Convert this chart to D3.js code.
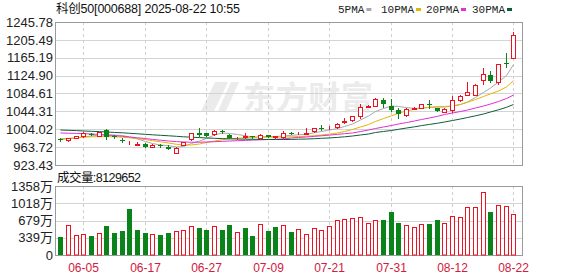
<!DOCTYPE html>
<html>
<head>
<meta charset="utf-8">
<script src="https://cdn.jsdelivr.net/npm/d3@7"></script>
<style>
  body { margin: 0; background: #fff; }
  svg { display: block; }
  text { font-family: "Liberation Sans", Arial, "Noto Sans CJK SC", sans-serif; }
</style>
</head>
<body>
<svg id="chart" width="578" height="276"></svg>
<script>
(function() {

    // trading days shown
    var dates = ['05-30','06-03','06-04','06-05','06-06','06-09','06-10','06-11','06-12','06-13',
        '06-16','06-17','06-18','06-19','06-20','06-23','06-24','06-25','06-26','06-27',
        '06-30','07-01','07-02','07-03','07-04','07-07','07-08','07-09','07-10','07-11',
        '07-14','07-15','07-16','07-17','07-18','07-21','07-22','07-23','07-24','07-25',
        '07-28','07-29','07-30','07-31','08-01','08-04','08-05','08-06','08-07','08-08',
        '08-11','08-12','08-13','08-14','08-15','08-18','08-19','08-20','08-21','08-22'];

    var opens = [982.0,979.8,985.4,988.8,994.4,989.9,1003.4,989.9,979.8,971.9,
        969.6,970.8,964.7,968.5,964.7,951.2,969.2,981.4,994.9,994.9,
        992.6,1000.7,991.1,983.2,986.6,988.1,984.3,990.4,986.6,987.2,
        995.5,993.3,994.4,1000.1,1007.9,1006.8,1009.1,1020.4,1024.2,1034.6,
        1055.3,1057.1,1069.3,1057.1,1048.1,1036.1,1049.7,1052.6,1060.9,1051.2,
        1043.6,1047.4,1069.9,1081.2,1081.2,1115.0,1126.3,1109.8,1153.4,1165.3];
    var closes = [979.8,983.2,988.8,995.5,992.2,996.7,986.6,987.7,977.5,973.0,
        970.8,963.3,969.2,966.7,960.2,961.1,974.6,994.9,991.1,989.5,
        1000.7,997.1,983.6,984.8,987.7,986.6,991.1,987.2,988.1,994.9,
        993.9,994.4,995.5,1006.2,1006.8,1007.9,1016.5,1021.5,1033.2,1054.2,
        1056.4,1072.2,1060.2,1048.1,1037.7,1049.7,1052.6,1060.3,1059.4,1045.2,
        1049.7,1069.9,1079.6,1088.7,1103.8,1127.9,1112.8,1150.4,1150.0,1216.5];
    var highs = [984.3,984.3,989.9,997.8,995.5,998.9,1004.6,991.1,984.3,977.5,
        975.3,971.9,970.8,970.8,967.4,962.9,976.4,995.5,1006.2,995.5,
        1002.3,1002.3,992.2,986.6,996.2,988.8,993.3,991.1,989.9,1000.7,
        998.9,997.8,1007.5,1007.9,1013.6,1011.3,1018.1,1030.0,1033.9,1060.3,
        1058.7,1074.5,1075.1,1072.2,1051.2,1050.8,1053.5,1060.9,1069.3,1051.9,
        1050.8,1079.6,1081.2,1109.9,1104.9,1141.4,1135.3,1151.1,1175.2,1222.6];
    var lows = [977.5,978.6,984.3,986.6,991.1,988.8,981.4,985.4,976.4,970.8,
        968.5,962.9,964.0,962.9,959.5,949.4,967.4,979.8,988.8,988.8,
        991.1,995.5,983.2,981.6,983.2,985.4,983.2,986.6,985.4,985.4,
        992.2,992.2,993.3,998.9,1002.3,1005.7,1007.9,1019.2,1023.7,1028.7,
        1054.2,1056.4,1054.8,1045.2,1028.7,1035.0,1049.0,1051.9,1052.6,1044.5,
        1042.9,1042.2,1068.8,1080.5,1080.1,1105.3,1111.6,1106.0,1145.0,1165.3];

    var ma5 = [982.0,983.2,984.3,986.6,988.8,991.1,991.1,991.1,989.9,986.6,
        982.0,976.4,971.9,968.5,966.9,964.0,965.1,971.9,977.5,983.2,
        991.1,995.6,994.4,992.2,989.3,986.6,986.6,987.7,987.7,988.8,
        990.4,991.5,992.6,996.2,998.9,1002.3,1005.7,1010.2,1015.9,1024.9,
        1033.9,1044.0,1050.8,1056.4,1055.3,1053.0,1050.8,1051.9,1053.0,1054.2,
        1054.2,1056.4,1059.8,1065.4,1075.6,1086.9,1097.0,1110.5,1125.2,1149.9];
    var ma10 = [981.4,983.2,984.7,986.1,987.0,987.4,987.4,987.0,986.1,984.7,
        983.0,980.7,978.2,975.7,973.0,970.1,968.5,968.5,970.8,974.2,
        977.5,980.5,982.5,983.8,984.7,985.4,985.9,986.1,986.3,986.6,
        987.0,987.7,988.4,989.5,991.1,992.9,995.6,998.9,1003.5,1009.1,
        1014.7,1021.5,1028.2,1034.3,1040.2,1045.2,1049.0,1051.9,1053.7,1054.6,
        1055.3,1056.4,1059.8,1064.8,1071.1,1077.8,1083.9,1090.2,1099.3,1113.9];
    var ma20 = [995.6,995.1,994.7,994.2,993.3,992.2,991.1,989.7,988.1,986.6,
        984.8,983.0,981.1,979.3,977.5,976.2,975.3,974.8,974.8,975.3,
        975.9,976.8,977.5,978.2,978.9,979.6,980.2,980.9,981.6,982.3,
        984.3,985.4,986.6,987.9,989.3,990.8,992.4,994.0,995.6,998.9,
        1002.3,1005.7,1009.1,1012.5,1015.8,1019.2,1022.6,1026.0,1029.4,1033.2,
        1037.3,1040.6,1044.0,1047.4,1051.9,1056.4,1060.9,1066.6,1073.3,1081.2];
    var ma30 = [1002.3,1001.6,1001.0,1000.1,999.4,998.7,997.8,996.9,996.0,994.9,
        993.8,992.6,991.5,990.4,989.3,988.1,987.0,986.1,985.2,984.3,
        983.6,982.9,982.5,982.0,981.6,981.4,981.1,980.9,980.9,980.9,
        981.1,981.6,982.0,982.7,983.6,984.5,985.6,987.0,988.8,991.1,
        993.3,996.7,999.0,1001.2,1003.9,1006.8,1009.5,1012.2,1014.9,1017.6,
        1020.3,1023.7,1027.1,1030.5,1034.3,1038.4,1042.9,1047.9,1053.5,1059.8];

    // volume in 万, and whether the bar is drawn as an up (hollow red) bar
    var volumes = [353,582,392,405,372,425,568,431,470,902,
        490,431,405,386,431,477,490,562,523,490,
        562,490,588,445,523,366,601,470,542,582,
        451,503,405,523,490,562,680,699,719,739,
        627,680,686,843,627,582,542,601,608,686,
        627,758,739,954,954,1248,843,993,974,813];
    var volUp = [0,1,1,1,0,1,0,0,0,0, 0,0,1,0,0,1,1,1,0,0,
        1,0,0,1,0,0,1,0,0,1, 0,1,1,1,1,1,1,1,1,1,
        1,1,0,0,0,1,1,1,0,0, 1,1,1,1,1,1,0,1,1,1];

    var priceTicks = [923.43,963.72,1004.02,1044.31,1084.61,1124.90,1165.19,1205.49,1245.78];
    var volTicks = [0,339.5,679,1018.5,1358];
    var volTickLabels = ['0','339万','679万','1018万','1358万'];
    var xTickDates = ['06-05','06-17','06-27','07-09','07-21','07-31','08-12','08-22'];

    var maNames = ['5PMA','10PMA','20PMA','30PMA'];
    var maColors = ['#a8a8a8','#e8b400','#e030d8','#0c5e3a'];
    var maSeries = [ma5, ma10, ma20, ma30];

    var upColor = '#ee1122',
        downColor = '#0a8418',
        lastVolume = '8129652';

    var left = 55, right = 522,
        mainTop = 22, mainBottom = 165,
        volTop = 186, volBottom = 255;

    var svg = d3.select('#chart');

    var x = d3.scaleBand().domain(dates).range([56.5, 517.3]);
    function cx(d) {
        return Math.round(x(d) + x.bandwidth() / 2);
    }

    var y = d3.scaleLinear().domain([923.43, 1245.78]).range([mainBottom, mainTop]);
    var vy = d3.scaleLinear().domain([0, 1358]).range([volBottom, volTop]);

    // watermark
    var wm = svg.append('g').attr('fill', '#ebebeb');
    wm.append('path')
        .attr('d', 'M215,82 L228,82 L214,111 L201,111 Z M231,82 L239,82 L226,111 L218,111 Z');
    wm.append('text')
        .attr('x', 243).attr('y', 109)
        .attr('font-size', 32).attr('font-weight', 'bold')
        .attr('textLength', 130)
        .attr('lengthAdjust', 'spacing')
        .style('font-family', '"Noto Sans CJK SC", sans-serif')
        .text('东方财富');

    // horizontal grid + borders
    function panel(scale, ticks, top, bottom) {
        svg.append('g').selectAll('line')
            .data(ticks)
            .enter()
            .append('line')
            .attr('x1', left).attr('x2', right)
            .attr('y1', function(d) { return Math.round(scale(d)) + 0.5; })
            .attr('y2', function(d) { return Math.round(scale(d)) + 0.5; })
            .attr('stroke', '#d4d4d4');

        svg.append('g').selectAll('line')
            .data(xTickDates)
            .enter()
            .append('line')
            .attr('x1', function(d) { return cx(d) + 0.5; })
            .attr('x2', function(d) { return cx(d) + 0.5; })
            .attr('y1', top).attr('y2', bottom)
            .attr('stroke', '#cfcfcf')
            .attr('stroke-dasharray', '3,3');

        svg.append('rect')
            .attr('x', left + 0.5).attr('y', top + 0.5)
            .attr('width', right - left).attr('height', bottom - top)
            .attr('fill', 'none')
            .attr('stroke', '#9a9a9a');
    }

    panel(y, priceTicks, mainTop, mainBottom);
    panel(vy, volTicks, volTop, volBottom);

    // y labels
    svg.append('g').selectAll('text')
        .data(priceTicks)
        .enter()
        .append('text')
        .attr('x', 53)
        .attr('y', function(d) { return y(d); })
        .attr('dy', '0.36em')
        .attr('text-anchor', 'end')
        .attr('font-size', 13)
        .attr('fill', '#222')
        .text(function(d) { return d.toFixed(2); });

    svg.append('g').selectAll('text')
        .data(volTicks)
        .enter()
        .append('text')
        .attr('x', 53)
        .attr('y', function(d) { return vy(d); })
        .attr('dy', '0.36em')
        .attr('text-anchor', 'end')
        .attr('font-size', 13)
        .attr('fill', '#222')
        .text(function(d, i) { return volTickLabels[i]; });

    // x labels
    svg.append('g').selectAll('text')
        .data(xTickDates)
        .enter()
        .append('text')
        .attr('x', function(d) { return cx(d) + 0.5; })
        .attr('y', 268)
        .attr('dy', '0.36em')
        .attr('text-anchor', 'middle')
        .attr('font-size', 12)
        .attr('fill', '#d0203c')
        .text(function(d) { return d; });

    // moving averages
    maSeries.forEach(function(s, k) {
        var line = d3.line()
            .x(function(v, i) { return cx(dates[i]) + 0.5; })
            .y(function(v) { return y(v); });
        svg.append('path')
            .datum(s)
            .attr('d', line)
            .attr('fill', 'none')
            .attr('stroke', maColors[k])
            .attr('stroke-width', 1);
    });

    // candles
    var candles = svg.append('g').selectAll('g')
        .data(dates)
        .enter()
        .append('g');

    candles.append('line')
        .attr('x1', function(d) { return cx(d) + 0.5; })
        .attr('x2', function(d) { return cx(d) + 0.5; })
        .attr('y1', function(d, i) { return Math.round(y(highs[i])); })
        .attr('y2', function(d, i) { return Math.round(y(lows[i])) + 1; })
        .attr('stroke', function(d, i) { return closes[i] >= opens[i] ? upColor : downColor; });

    candles.append('rect')
        .attr('x', function(d, i) { return closes[i] >= opens[i] ? cx(d) - 2 + 0.5 : cx(d) - 2; })
        .attr('width', function(d, i) { return closes[i] >= opens[i] ? 4 : 5; })
        .attr('y', function(d, i) {
            var t = Math.round(y(Math.max(opens[i], closes[i])));
            return closes[i] >= opens[i] ? t + 0.5 : t;
        })
        .attr('height', function(d, i) {
            var h = Math.round(y(Math.min(opens[i], closes[i]))) - Math.round(y(Math.max(opens[i], closes[i])));
            return closes[i] >= opens[i] ? Math.max(h, 0) : Math.max(h, 1);
        })
        .attr('fill', function(d, i) { return closes[i] >= opens[i] ? '#fff' : downColor; })
        .attr('stroke', function(d, i) { return closes[i] >= opens[i] ? upColor : 'none'; });

    // volume bars
    svg.append('g').selectAll('rect')
        .data(dates)
        .enter()
        .append('rect')
        .attr('x', function(d, i) { return volUp[i] ? cx(d) - 2 + 0.5 : cx(d) - 2; })
        .attr('width', function(d, i) { return volUp[i] ? 4 : 5; })
        .attr('y', function(d, i) { return Math.round(vy(volumes[i])) + (volUp[i] ? 0.5 : 0); })
        .attr('height', function(d, i) { return volBottom - Math.round(vy(volumes[i])) - (volUp[i] ? 0.5 : 0); })
        .attr('fill', function(d, i) { return volUp[i] ? '#fff' : downColor; })
        .attr('stroke', function(d, i) { return volUp[i] ? upColor : 'none'; });

    // header
    svg.append('text')
        .attr('x', 56).attr('y', 8)
        .attr('dy', '0.36em')
        .attr('font-size', 12.5)
        .attr('textLength', 184)
        .attr('lengthAdjust', 'spacing')
        .attr('fill', '#111')
        .text('科创50[000688] 2025-08-22 10:55');

    svg.append('text')
        .attr('x', 57).attr('y', 177)
        .attr('dy', '0.36em')
        .attr('font-size', 12.5)
        .attr('textLength', 84)
        .attr('lengthAdjust', 'spacing')
        .attr('fill', '#111')
        .text('成交量:' + lastVolume);

    // legend
    var legendX = [338, 381, 426, 472];
    var legend = svg.append('g').selectAll('g')
        .data(maNames)
        .enter()
        .append('g')
        .attr('transform', function(d, i) { return 'translate(' + legendX[i] + ',9)'; });
    legend.append('text')
        .attr('dy', '0.36em')
        .attr('font-size', 11)
        .style('font-family', '"Liberation Mono", monospace')
        .attr('fill', '#222')
        .text(function(d) { return d; });
    legend.append('rect')
        .attr('x', function(d) { return d.length * 6.6 + 2; })
        .attr('y', -1)
        .attr('width', 5).attr('height', 3)
        .attr('fill', function(d, i) { return maColors[i]; });

})();
</script>
</body>
</html>
